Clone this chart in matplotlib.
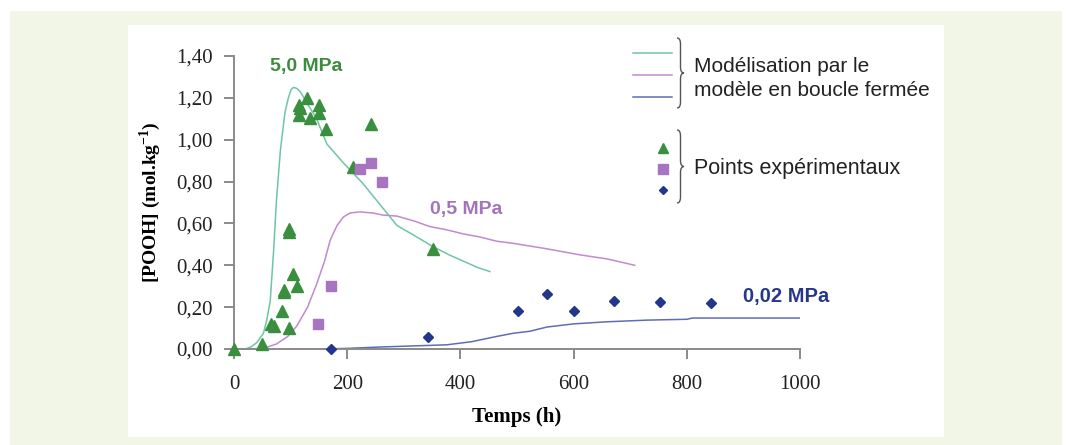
import matplotlib
matplotlib.use('Agg')
import matplotlib.pyplot as plt
from matplotlib.patches import Rectangle, PathPatch
from matplotlib.path import Path
from matplotlib.lines import Line2D

plt.rcParams['mathtext.fontset'] = 'custom'
plt.rcParams['mathtext.rm'] = 'Liberation Serif'
plt.rcParams['mathtext.bf'] = 'Liberation Serif:bold'

# --- model curves (closed-loop model) ---
t_model_50 = [0, 20, 30, 40, 52, 58, 64, 70, 75, 82, 90, 96, 101, 105, 111, 117, 130, 146, 164, 193, 228, 264, 288, 320, 351, 380, 405, 430, 452]
c_model_50 = [0.0, 0.0, 0.01, 0.03, 0.075, 0.14, 0.23, 0.47, 0.71, 0.95, 1.13, 1.20, 1.24, 1.25, 1.245, 1.23, 1.17, 1.10, 0.98, 0.89, 0.79, 0.67, 0.59, 0.54, 0.49, 0.45, 0.42, 0.39, 0.37]

t_model_05 = [0, 40, 60, 75, 95, 111, 130, 146, 160, 170, 182, 193, 205, 222, 245, 263, 288, 320, 346, 375, 405, 435, 464, 493, 550, 611, 660, 708]
c_model_05 = [0.0, 0.0, 0.01, 0.024, 0.06, 0.11, 0.20, 0.31, 0.42, 0.52, 0.59, 0.63, 0.65, 0.655, 0.65, 0.64, 0.635, 0.61, 0.585, 0.57, 0.55, 0.535, 0.515, 0.505, 0.48, 0.45, 0.43, 0.40]

t_model_002 = [150, 200, 263, 320, 376, 420, 464, 493, 523, 553, 600, 659, 730, 800, 810, 900, 1000]
c_model_002 = [0.0, 0.003, 0.01, 0.015, 0.02, 0.035, 0.06, 0.075, 0.085, 0.105, 0.12, 0.13, 0.138, 0.142, 0.148, 0.148, 0.148]

# --- experimental points ---
t_exp_50 = [0, 49, 66, 71, 85, 89, 89, 97, 97, 97, 105, 111, 115, 115, 117, 129, 134, 150, 150, 163, 210, 242, 351]
c_exp_50 = [0.0, 0.025, 0.12, 0.11, 0.18, 0.28, 0.27, 0.575, 0.56, 0.10, 0.36, 0.30, 1.167, 1.12, 1.15, 1.20, 1.105, 1.167, 1.13, 1.05, 0.87, 1.077, 0.48]

t_exp_05 = [148, 171, 222, 242, 261]
c_exp_05 = [0.12, 0.30, 0.86, 0.89, 0.80]

t_exp_002 = [171, 343, 502, 553, 601, 671, 753, 843]
c_exp_002 = [0.0, 0.055, 0.18, 0.265, 0.18, 0.23, 0.225, 0.22]

x_ticks = [0, 200, 400, 600, 800, 1000]
y_ticks = [0.0, 0.2, 0.4, 0.6, 0.8, 1.0, 1.2, 1.4]

line_50, line_05, line_002 = '#6dc6a2', '#c08ad0', '#5f6db5'
mk_50, mk_05, mk_002 = '#3a8f3f', '#a873bf', '#22378c'
axis_grey = '#8a8a8a'

W, H = 1067, 445
fig = plt.figure(figsize=(W / 100, H / 100), dpi=100)
fig.patch.set_facecolor('white')


def px(x, y):
    return x / W, 1 - y / H


# background frames
fig.patches.append(Rectangle(px(10, 445), 1052 / W, 434 / H, transform=fig.transFigure,
                             facecolor='#f2f6e6', edgecolor='none', zorder=-10))
fig.patches.append(Rectangle(px(128, 437), 816 / W, 412 / H, transform=fig.transFigure,
                             facecolor='white', edgecolor='none', zorder=-9))

ax = fig.add_axes([234 / W, 1 - 349 / H, (800 - 234) / W, (349 - 56) / H])
ax.set_facecolor('none')

ax.plot(t_model_50, c_model_50, color=line_50, lw=1.1, zorder=2)
ax.plot(t_model_05, c_model_05, color=line_05, lw=1.1, zorder=2)
ax.plot(t_model_002, c_model_002, color=line_002, lw=1.1, zorder=2)

ax.plot(t_exp_50, c_exp_50, '^', color=mk_50, ms=8.5, mec=mk_50, clip_on=False, zorder=4)
ax.plot(t_exp_05, c_exp_05, 's', color=mk_05, ms=7.5, mec=mk_05, clip_on=False, zorder=4)
ax.plot(t_exp_002, c_exp_002, 'D', color=mk_002, ms=5.5, mec=mk_002, clip_on=False, zorder=4)

ax.set_xlim(0, 1000)
ax.set_ylim(0, 1.4)
ax.set_xticks(x_ticks)
ax.set_yticks(y_ticks)
ax.set_xticklabels([str(v) for v in x_ticks])
ax.set_yticklabels([('%.2f' % v).replace('.', ',') for v in y_ticks])
for s in ['top', 'right']:
    ax.spines[s].set_visible(False)
for s in ['left', 'bottom']:
    ax.spines[s].set_color(axis_grey)
    ax.spines[s].set_linewidth(1.4)
ax.tick_params(axis='both', direction='out', color=axis_grey, width=1.4, length=7,
               labelsize=15, labelcolor='#222222')
ax.tick_params(axis='x', pad=12)
ax.tick_params(axis='y', pad=8)
for lab in ax.get_xticklabels() + ax.get_yticklabels():
    lab.set_fontfamily('Liberation Serif')

ax.set_xlabel('Temps (h)', fontsize=15, fontweight='bold', family='Liberation Serif', labelpad=9)
ax.set_ylabel(r'[POOH] (mol.kg$^{\mathbf{-1}}$)', fontsize=14, fontweight='bold',
              family='Liberation Serif', labelpad=10)

# curve labels
ax.text(128, 1.35, '5,0 MPa', color='#3d8c3d', fontsize=14, fontweight='bold',
        family='Liberation Sans', ha='center', va='center')
ax.text(410, 0.665, '0,5 MPa', color='#a374bd', fontsize=14, fontweight='bold',
        family='Liberation Sans', ha='center', va='center')
ax.text(975, 0.25, '0,02 MPa', color='#26388a', fontsize=14.5, fontweight='bold',
        family='Liberation Sans', ha='center', va='center', clip_on=False)


# legend drawn by hand, in figure pixels
def brace(x, y0, y1, w):
    ym = (y0 + y1) / 2
    r = 6
    m = x + w / 2
    verts = [(x, y0), (m, y0), (m, y0 + r), (m, ym - r), (m, ym), (x + w, ym),
             (m, ym), (m, ym + r), (m, y1 - r), (m, y1), (x, y1)]
    codes = [Path.MOVETO, Path.CURVE3, Path.CURVE3, Path.LINETO, Path.CURVE3, Path.CURVE3,
             Path.CURVE3, Path.CURVE3, Path.LINETO, Path.CURVE3, Path.CURVE3]
    path = Path([px(*v) for v in verts], codes)
    fig.patches.append(PathPatch(path, transform=fig.transFigure, facecolor='none',
                                 edgecolor='#555555', lw=1.0))


for yy, c in zip([53, 75, 97], [line_50, line_05, line_002]):
    fig.lines.append(Line2D([633 / W, 672 / W], [1 - yy / H] * 2, transform=fig.transFigure,
                            color=c, lw=1.1))
for yy, m, c, s in zip([148, 169, 190], ['^', 's', 'D'], [mk_50, mk_05, mk_002], [7.5, 6.5, 4.5]):
    fig.lines.append(Line2D([663 / W], [1 - yy / H], transform=fig.transFigure, marker=m,
                            color=c, ms=s, ls='none'))
brace(677, 38, 108, 7)
brace(677, 130, 203, 7)

fig.text(*px(694, 67), 'Modélisation par le', fontsize=15, family='Liberation Sans',
         color='#222222', va='center')
fig.text(*px(694, 90), 'modèle en boucle fermée', fontsize=15, family='Liberation Sans',
         color='#222222', va='center')
fig.text(*px(694, 168), 'Points expérimentaux', fontsize=15.5, family='Liberation Sans',
         color='#222222', va='center')

fig.savefig('out.png', dpi=100, facecolor=fig.get_facecolor())
